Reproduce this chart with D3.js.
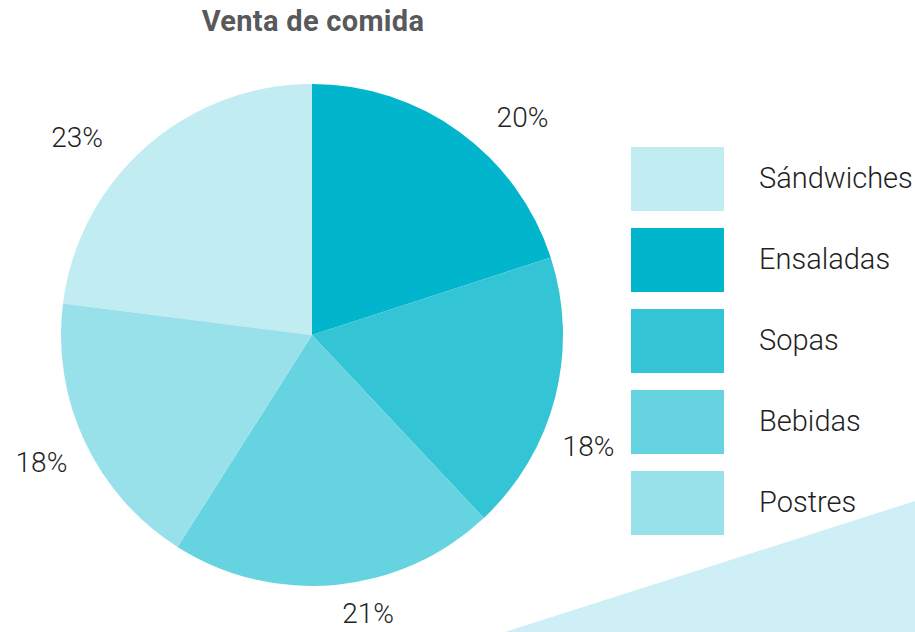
<!DOCTYPE html>
<html>
<head>
<meta charset="utf-8">
<script src="https://cdn.jsdelivr.net/npm/d3@7"></script>
<style>
  html, body { margin: 0; padding: 0; background: #fff; }
  svg { display: block; font-family: Roboto, "Noto Sans", sans-serif; }
</style>
</head>
<body>
<div id="chart"></div>
<script>
const title = "Venta de comida";
const categories = ["Sándwiches", "Ensaladas", "Sopas", "Bebidas", "Postres"];
const values = [23, 20, 18, 21, 18];
const colors = ["#c1ecf1", "#00b5cc", "#33c4d6", "#66d3e0", "#99e1ea"];

const width = 915, height = 632;
const cx = 312, cy = 335, radius = 251;
// label placement tweaks (angle in degrees, distance from centre)
const labelNudge = [-8.5, 8, 7.5, -6, 0];
const labelDist = [307, 303, 298, 284, 299];

const svg = d3.select("#chart").append("svg")
    .attr("width", width).attr("height", height);

// decorative corner shape
svg.append("path")
    .attr("d", d3.line()([[505, 632], [915, 501], [915, 632]]) + "Z")
    .attr("fill", "#cdeff5");

svg.append("text")
    .attr("x", 313).attr("y", 31)
    .attr("text-anchor", "middle")
    .attr("font-size", 29).attr("font-weight", 700)
    .attr("letter-spacing", 0.3)
    .attr("fill", "#58595b")
    .text(title);

const data = categories.map((c, i) => ({
  name: c, value: values[i], color: colors[i], nudge: labelNudge[i], dist: labelDist[i]
}));
const total = d3.sum(values);
const start = -values[0] / total * 2 * Math.PI;

const pie = d3.pie().sort(null).value(d => d.value)
    .startAngle(start).endAngle(start + 2 * Math.PI);
const arc = d3.arc().innerRadius(0).outerRadius(radius);

const g = svg.append("g").attr("transform", `translate(${cx},${cy})`);
const arcs = pie(data);

g.selectAll("path.slice").data(arcs).enter().append("path")
    .attr("class", "slice")
    .attr("d", arc)
    .attr("fill", d => d.data.color);

const labelAngle = d => (d.startAngle + d.endAngle) / 2 + d.data.nudge * Math.PI / 180;

g.selectAll("text.pct").data(arcs).enter().append("text")
    .attr("class", "pct")
    .attr("text-anchor", "middle")
    .attr("font-size", 28).attr("font-weight", 300)
    .attr("fill", "#1f1f1f")
    .attr("x", d => d.data.dist * Math.sin(labelAngle(d)))
    .attr("y", d => -d.data.dist * Math.cos(labelAngle(d)) + 10)
    .text(d => d3.format(".0%")(d.value / total));

// legend
const ly = d3.scaleBand().domain(categories).range([147, 535]).paddingInner(17 / 81).paddingOuter(0);
const item = svg.append("g").selectAll("g").data(data).enter().append("g")
    .attr("transform", d => `translate(631,${ly(d.name)})`);
item.append("rect")
    .attr("width", 93).attr("height", ly.bandwidth())
    .attr("fill", d => d.color);
item.append("text")
    .attr("x", 128).attr("y", ly.bandwidth() / 2 + 9)
    .attr("font-size", 29).attr("font-weight", 300)
    .attr("fill", "#1f1f1f")
    .text(d => d.name);
</script>
</body>
</html>
